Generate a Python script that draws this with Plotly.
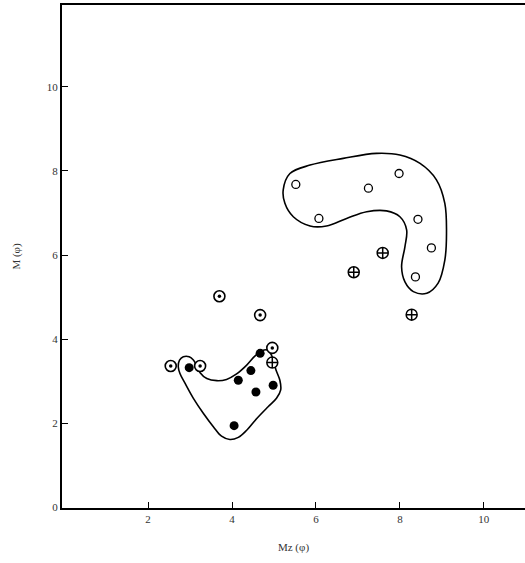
import plotly.graph_objects as go

# Filled circles
filled_x = [2.98, 4.67, 4.45, 4.15, 4.98, 4.57, 4.05]
filled_y = [3.32, 3.66, 3.25, 3.02, 2.90, 2.74, 1.94]

# Circles with centre dot
dotted_x = [3.70, 4.67, 2.54, 3.24, 4.96]
dotted_y = [5.02, 4.57, 3.36, 3.36, 3.79]

# Circles with cross
cross_x = [4.96, 7.59, 6.90, 8.28]
cross_y = [3.44, 6.05, 5.59, 4.58]

# Open circles
open_x = [5.52, 7.25, 7.98, 6.07, 8.43, 8.75, 8.37]
open_y = [7.68, 7.59, 7.94, 6.87, 6.85, 6.17, 5.48]

# Enclosing outline, upper group
upper_x = [5.22, 5.38, 5.86, 6.65, 7.44, 8.00, 8.48, 8.87, 9.07, 9.11, 9.07, 8.91, 8.64,
           8.32, 8.12, 8.04, 8.12, 8.16, 8.00, 7.68, 7.21, 6.73, 6.25, 5.86, 5.46, 5.26, 5.22]
upper_y = [7.55, 7.94, 8.14, 8.30, 8.42, 8.38, 8.18, 7.79, 7.23, 6.52, 5.88, 5.33, 5.09,
           5.13, 5.36, 5.72, 6.20, 6.60, 6.91, 7.05, 7.03, 6.87, 6.69, 6.69, 6.91, 7.23, 7.55]

# Enclosing outline, lower group
lower_x = [2.72, 2.75, 2.84, 2.98, 3.08, 3.16, 3.24, 3.40, 3.64, 3.87, 4.11, 4.35, 4.55, 4.71,
           4.84, 4.94, 5.05, 5.14, 5.16, 5.06, 4.86, 4.59, 4.35, 4.15, 3.95, 3.75, 3.56, 3.32,
           3.08, 2.88, 2.76, 2.72]
lower_y = [3.34, 3.50, 3.58, 3.58, 3.50, 3.36, 3.20, 3.06, 3.01, 3.04, 3.17, 3.38, 3.60, 3.72,
           3.74, 3.62, 3.26, 3.02, 2.79, 2.59, 2.39, 2.11, 1.83, 1.66, 1.61, 1.69, 1.91, 2.23,
           2.59, 2.95, 3.18, 3.34]

x_ticks = [2, 4, 6, 8, 10]
y_ticks = [0, 2, 4, 6, 8, 10]

fig = go.Figure()
for xs, ys in [(upper_x, upper_y), (lower_x, lower_y)]:
    fig.add_trace(go.Scatter(x=xs, y=ys, mode="lines",
                             line=dict(color="black", width=1.6, shape="spline", smoothing=1.0),
                             hoverinfo="skip"))

fig.add_trace(go.Scatter(x=open_x, y=open_y, mode="markers",
                         marker=dict(symbol="circle", size=8, color="white",
                                     line=dict(color="black", width=1.3))))
fig.add_trace(go.Scatter(x=dotted_x, y=dotted_y, mode="markers",
                         marker=dict(symbol="circle", size=11, color="white",
                                     line=dict(color="black", width=1.6))))
fig.add_trace(go.Scatter(x=dotted_x, y=dotted_y, mode="markers",
                         marker=dict(symbol="circle", size=3.5, color="black", line=dict(width=0))))
fig.add_trace(go.Scatter(x=cross_x, y=cross_y, mode="markers",
                         marker=dict(symbol="circle-cross", size=11, color="white",
                                     line=dict(color="black", width=1.5))))
fig.add_trace(go.Scatter(x=filled_x, y=filled_y, mode="markers",
                         marker=dict(symbol="circle", size=9, color="black", line=dict(width=0))))

axis_font = dict(family="Liberation Serif, DejaVu Serif, serif", size=11, color="#333")
fig.update_layout(
    width=525, height=563,
    margin=dict(l=62, r=0, t=5, b=55),
    paper_bgcolor="white", plot_bgcolor="white",
    showlegend=False,
    xaxis=dict(range=[-0.05, 10.98], tickvals=x_ticks, ticktext=[str(v) for v in x_ticks],
               ticks="inside", ticklen=6, tickwidth=1.2, tickcolor="black",
               showline=True, linecolor="black", linewidth=2, mirror=True,
               showgrid=False, zeroline=False, tickfont=axis_font,
               title=dict(text="Mz (φ)", font=axis_font, standoff=19)),
    yaxis=dict(range=[-0.02, 11.95], tickvals=y_ticks, ticktext=[str(v) for v in y_ticks],
               ticks="inside", ticklen=6, tickwidth=1.2, tickcolor="black",
               showline=True, linecolor="black", linewidth=2, mirror=False,
               showgrid=False, zeroline=False, tickfont=axis_font,
               title=dict(text="M (φ)", font=axis_font, standoff=24)),
)

fig.write_html("out.html", config={"displayModeBar": False},
               post_script="document.body.style.margin='0';document.body.style.overflow='hidden';")
